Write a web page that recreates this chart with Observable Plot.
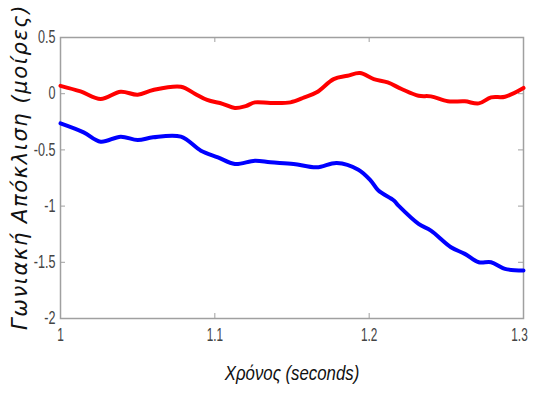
<!DOCTYPE html>
<html>
<head>
<meta charset="utf-8">
<script src="https://cdn.jsdelivr.net/npm/d3@7"></script>
<script src="https://cdn.jsdelivr.net/npm/@observablehq/plot@0.6"></script>
<style>
  html, body { margin: 0; padding: 0; background: #fff; }
  #chart { position: relative; width: 533px; height: 394px; }
</style>
</head>
<body>
<div id="chart"></div>
<script>
// Red series (time in seconds, angle in degrees)
const redTime = [1.000, 1.013, 1.026, 1.039, 1.050, 1.060, 1.078, 1.087, 1.095, 1.105, 1.113, 1.120, 1.126, 1.136, 1.149, 1.158, 1.166, 1.177, 1.186, 1.194, 1.203, 1.212, 1.221, 1.232, 1.240, 1.251, 1.262, 1.271, 1.279, 1.288, 1.300];
const redValue = [0.07, 0.02, -0.047, 0.018, -0.009, 0.033, 0.062, 0.0, -0.056, -0.09, -0.127, -0.11, -0.077, -0.083, -0.077, -0.033, 0.012, 0.13, 0.16, 0.184, 0.13, 0.1, 0.042, -0.018, -0.024, -0.068, -0.068, -0.086, -0.033, -0.027, 0.051];
// Blue series
const blueTime = [1.000, 1.015, 1.026, 1.039, 1.050, 1.060, 1.078, 1.091, 1.102, 1.113, 1.126, 1.136, 1.151, 1.166, 1.179, 1.193, 1.201, 1.206, 1.216, 1.219, 1.232, 1.240, 1.253, 1.262, 1.271, 1.279, 1.288, 1.300];
const blueValue = [-0.264, -0.344, -0.427, -0.382, -0.412, -0.388, -0.382, -0.507, -0.566, -0.625, -0.596, -0.61, -0.625, -0.655, -0.616, -0.676, -0.773, -0.862, -0.951, -0.996, -1.158, -1.218, -1.366, -1.425, -1.5, -1.5, -1.558, -1.573];
const xTicks = [1, 1.1, 1.2, 1.3];
const yTicks = [0.5, 0, -0.5, -1, -1.5, -2];
const xLabel = "Χρόνος (seconds)";
const yLabel = "Γωνιακή Απόκλιση (μοίρες)";

const red = redTime.map((t, i) => ({t, v: redValue[i]}));
const blue = blueTime.map((t, i) => ({t, v: blueValue[i]}));

const W = 533, H = 394, mT = 37, mB = 76, mL = 60, mR = 10;
const innerH = H - mT - mB, innerW = W - mL - mR;
const tickLen = 5;
const gray = "#a0a0a0";
const fmt = d => String(d);
const sans = "'Liberation Sans', Arial, sans-serif";

const plot = Plot.plot({
  width: W,
  height: H,
  marginTop: mT,
  marginBottom: mB,
  marginLeft: mL,
  marginRight: mR,
  style: {fontFamily: sans, fontSize: "19px", background: "white", overflow: "visible"},
  x: {domain: [1, 1.3]},
  y: {domain: [-2, 0.5]},
  marks: [
    Plot.frame({stroke: gray, strokeWidth: 1.5}),
    Plot.tickX(xTicks.slice(1, -1), {x: d => d, insetTop: innerH - tickLen, stroke: gray, strokeWidth: 1}),
    Plot.tickX(xTicks.slice(1, -1), {x: d => d, insetBottom: innerH - tickLen, stroke: gray, strokeWidth: 1}),
    Plot.tickY(yTicks.slice(1, -1), {y: d => d, insetRight: innerW - tickLen, stroke: gray, strokeWidth: 1}),
    Plot.tickY(yTicks.slice(1, -1), {y: d => d, insetLeft: innerW - tickLen, stroke: gray, strokeWidth: 1}),
    Plot.axisX(xTicks, {tickSize: 0, tickPadding: 9, tickFormat: fmt, fill: "#444", fontSize: 19, label: null}),
    Plot.axisY(yTicks, {tickSize: 0, tickPadding: 5, tickFormat: fmt, fill: "#444", fontSize: 18, label: null}),
    Plot.line(red, {x: "t", y: "v", stroke: "#ff0000", strokeWidth: 4, curve: "catmull-rom"}),
    Plot.line(blue, {x: "t", y: "v", stroke: "#0000ff", strokeWidth: 4, curve: "catmull-rom"}),
    Plot.text([xLabel], {frameAnchor: "bottom", lineAnchor: "middle", dy: 55, text: d => d, fontSize: 21, fontStyle: "italic", fill: "#111", className: "xlab"}),
    Plot.text([yLabel], {frameAnchor: "left", textAnchor: "middle", lineAnchor: "middle", dx: -40, dy: -11, rotate: -90, text: d => d, fontSize: 21, fontStyle: "italic", fill: "#111", fontFamily: "'DejaVu Sans', sans-serif", className: "ylab"})
  ]
});
document.getElementById("chart").appendChild(plot);

// Condense tick labels and the x title horizontally, like the reference's narrow font
function condense(sel, k) {
  d3.select(plot).selectAll(sel).each(function () {
    const len = this.getComputedTextLength();
    this.setAttribute("textLength", (len * k).toFixed(1));
    this.setAttribute("lengthAdjust", "spacingAndGlyphs");
  });
}
condense('g[aria-label="x-axis tick label"] text', 0.62);
condense('g[aria-label="y-axis tick label"] text', 0.7);
condense('.xlab text', 0.8);
// last x tick label sits slightly left of its tick, as in the reference
const xl = d3.select(plot).selectAll('g[aria-label="x-axis tick label"] text').nodes();
if (xl.length) xl[xl.length - 1].setAttribute("dx", "-4");
d3.select(plot).selectAll('.ylab text').style("letter-spacing", "1.6px");
</script>
</body>
</html>
